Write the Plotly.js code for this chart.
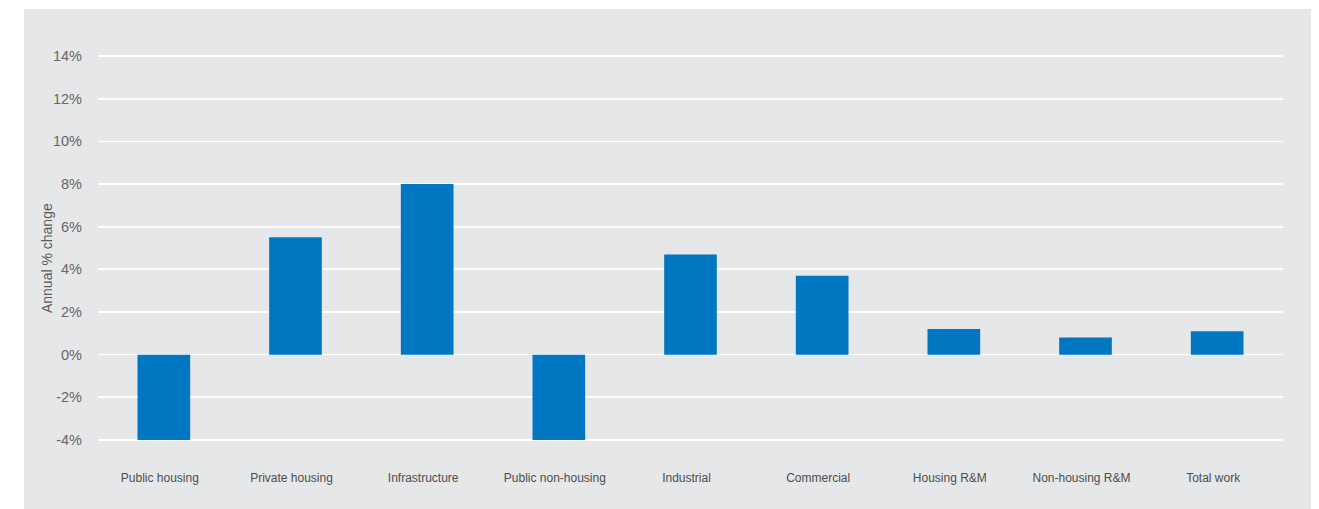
<!DOCTYPE html>
<html>
<head>
<meta charset="utf-8">
<script src="https://cdn.plot.ly/plotly-3.0.1.min.js"></script>
<style>
  html, body { margin: 0; padding: 0; background: #ffffff; width: 1319px; height: 509px; overflow: hidden; }
  #chart { position: absolute; left: 24px; top: 9px; width: 1287px; height: 500px; }
</style>
</head>
<body>
<div id="chart"></div>
<script>
const categories = ["Public housing", "Private housing", "Infrastructure", "Public non-housing",
                    "Industrial", "Commercial", "Housing R&M", "Non-housing R&M", "Total work"];
const annualChange = [-4.0, 5.5, 8.0, -4.0, 4.7, 3.7, 1.2, 0.8, 1.1];
const yTickValues = [-4, -2, 0, 2, 4, 6, 8, 10, 12, 14];
const yTickLabels = ["-4%", "-2%", "0%", "2%", "4%", "6%", "8%", "10%", "12%", "14%"];

const trace = {
  type: "bar",
  x: categories,
  y: annualChange,
  marker: { color: "#0077c0", line: { width: 0 } },
  hoverinfo: "x+y"
};

const layout = {
  width: 1287,
  height: 500,
  margin: { l: 74, r: 28, t: 46, b: 68 },
  paper_bgcolor: "#e6e7e9",
  plot_bgcolor: "#e6e7e9",
  bargap: 0.6,
  showlegend: false,
  font: { family: "Liberation Sans, Arial, sans-serif", color: "#5a5a5a" },
  xaxis: {
    type: "category",
    showgrid: false,
    zeroline: false,
    showline: false,
    ticks: "",
    ticklabelstandoff: 28,
    ticklabelshift: -4,
    tickfont: { size: 12, color: "#4d4d4d" }
  },
  yaxis: {
    range: [-4.05, 14.05],
    tickmode: "array",
    tickvals: yTickValues,
    ticktext: yTickLabels,
    showgrid: true,
    gridcolor: "#ffffff",
    gridwidth: 1.7,
    zeroline: true,
    zerolinecolor: "#ffffff",
    zerolinewidth: 1.7,
    showline: false,
    ticks: "",
    ticklabelstandoff: 15,
    tickfont: { size: 14.5, color: "#666666" }
  },
  annotations: [{
    text: "Annual % change",
    xref: "paper", yref: "paper",
    x: 0, y: 0.474,
    xshift: -51,
    xanchor: "center", yanchor: "middle",
    textangle: -90,
    showarrow: false,
    font: { size: 14, color: "#5a5a5a" }
  }]
};

Plotly.newPlot("chart", [trace], layout, { displayModeBar: false, staticPlot: true });
</script>
</body>
</html>
